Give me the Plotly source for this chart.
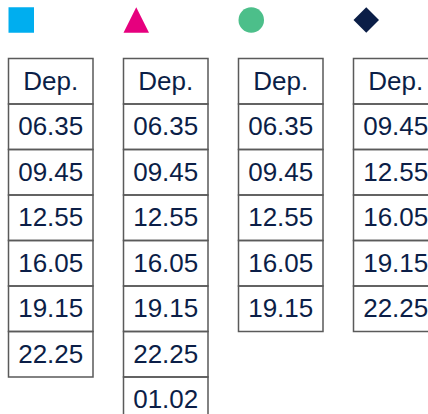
import plotly.graph_objects as go

# ---- data ----
header = "Dep."
route_blue = ["06.35", "09.45", "12.55", "16.05", "19.15", "22.25"]
route_pink = ["06.35", "09.45", "12.55", "16.05", "19.15", "22.25", "01.02"]
route_green = ["06.35", "09.45", "12.55", "16.05", "19.15"]
route_navy = ["09.45", "12.55", "16.05", "19.15", "22.25"]

routes = [route_blue, route_pink, route_green, route_navy]
colors = ["#00AEEF", "#E6007E", "#4CBF8A", "#0B1E47"]
symbols = ["square", "triangle", "circle", "diamond"]

# ---- layout constants (pixels) ----
W, H = 428, 414
col_x0 = 8.5
col_step = 115.0
col_w = 84.5
row_y0 = 58.5
row_h = 45.5
text_dy = 2.0
icon_y = 20.0
icon_size = 25.5
text_color = "#0B1E47"
line_color = "#5A5A5A"
font_family = "Liberation Sans, Arial, Helvetica, sans-serif"
font_size = 26

fig = go.Figure()
shapes = []

for ci, (times, col, sym) in enumerate(zip(routes, colors, symbols)):
    x0 = col_x0 + ci * col_step
    x1 = x0 + col_w
    xc = (x0 + x1) / 2
    icon_x = x0 + icon_size / 2
    # icon
    if sym == "triangle":
        half = icon_size / 2
        path = (f"M {icon_x - half},{icon_y + half} L {icon_x + half},{icon_y + half} "
                f"L {icon_x},{icon_y - half} Z")
        shapes.append(dict(type="path", path=path, xref="x", yref="y",
                           fillcolor=col, line=dict(width=0)))
    else:
        size = {"square": icon_size, "circle": icon_size, "diamond": icon_size / 1.3}[sym]
        fig.add_trace(go.Scatter(x=[icon_x], y=[icon_y], mode="markers",
                                 marker=dict(symbol=sym, size=size, color=col,
                                             line=dict(width=0)),
                                 hoverinfo="skip", showlegend=False))
    labels = [header] + times
    ys = []
    for ri, lab in enumerate(labels):
        y0 = row_y0 + ri * row_h
        y1 = y0 + row_h
        shapes.append(dict(type="rect", xref="x", yref="y", x0=x0, x1=x1, y0=y0, y1=y1,
                           line=dict(color=line_color, width=1.5),
                           fillcolor="rgba(0,0,0,0)", layer="above"))
        ys.append((y0 + y1) / 2 + text_dy)
    fig.add_trace(go.Scatter(x=[xc] * len(labels), y=ys, mode="text", text=labels,
                             textposition="middle center", cliponaxis=False,
                             textfont=dict(family=font_family, size=font_size, color=text_color),
                             hoverinfo="skip", showlegend=False))

fig.update_layout(
    width=W, height=H,
    margin=dict(l=0, r=0, t=0, b=0),
    paper_bgcolor="white", plot_bgcolor="white",
    shapes=shapes,
    xaxis=dict(range=[0, W], visible=False, fixedrange=True),
    yaxis=dict(range=[H, 0], visible=False, fixedrange=True),
    showlegend=False,
)

fig.write_html("out.html", config={"displayModeBar": False},
               post_script="document.body.style.margin='0';document.body.style.overflow='hidden';")
